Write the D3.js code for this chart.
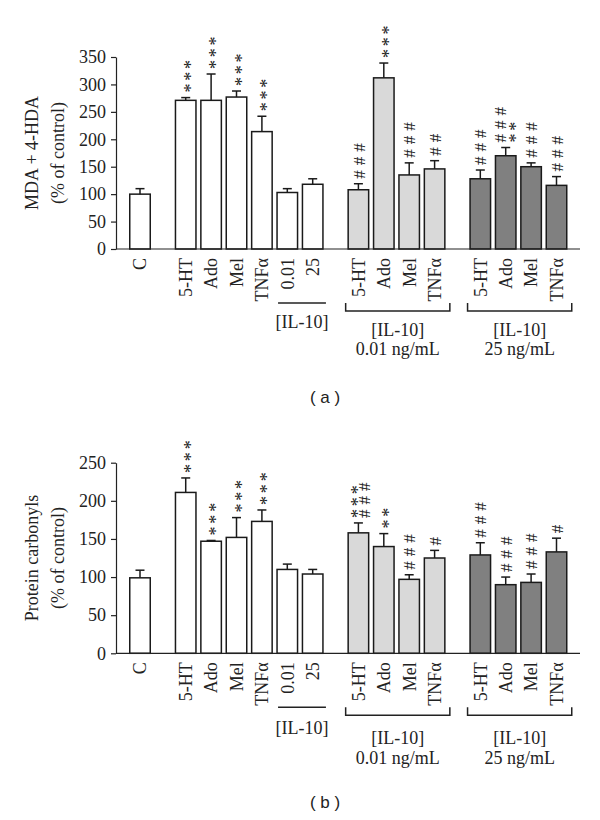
<!DOCTYPE html>
<html><head><meta charset="utf-8">
<script src="https://cdn.jsdelivr.net/npm/d3@7"></script>
<style>
body{margin:0;background:#fff;}
svg text{font-family:"Liberation Serif","Times New Roman",serif;fill:#222;}
</style></head>
<body><svg id="chart" width="600" height="820"></svg>
<script>
const categories = ["C","5-HT","Ado","Mel","TNFα","0.01","25","5-HT","Ado","Mel","TNFα","5-HT","Ado","Mel","TNFα"];
const groupOf = [0,1,1,1,1,1,1,2,2,2,2,3,3,3,3];
const mdaMean = [100,271,271,277,214,103,118,108,312,135,146,128,170,150,116];
const mdaErr  = [10,5,48,11,28,7,10,11,27,22,15,16,15,7,16];
const mdaSig  = ["","***","***","***","***","","","###","***","###","##","###","###|**","###","###"];
const pcMean  = [99,211,147,152,173,110,104,158,140,97,125,129,90,93,133];
const pcErr   = [10,19,1,26,15,7,6,13,17,6,10,16,10,11,18];
const pcSig   = ["","***","***","***","***","","","***|###","**","###","#","###","###","###","#"];
const mdaTicks = [0,50,100,150,200,250,300,350];
const pcTicks  = [0,50,100,150,200,250];
const groupFill = ["#ffffff","#ffffff","#d9d9d9","#808080"];

const svg = d3.select("#chart");
const ink = "#222";
const FS = 18;

// slot positions derived from group membership
const slots = [];
let s = 0;
categories.forEach((c,i)=>{ if(i>0) s += (groupOf[i]!==groupOf[i-1]) ? 1.8 : 1; slots.push(s); });
const x = d3.scaleLinear().domain([0, slots[slots.length-1]]).range([140, 556.5]);
const barW = 20.5;

// symbol metrics (rotated stack)
const SYM = {
  "*": {fs:18, step:11.8, center:0.62},
  "#": {fs:17, step:13.5, center:0.36}
};

function panel(cfg){
  const y = d3.scaleLinear().domain([0, cfg.max]).range([cfg.y0, cfg.y1]);
  const g = svg.append("g");
  const ax = g.append("g").attr("transform","translate(116,0)")
    .call(d3.axisLeft(y).tickValues(cfg.ticks).tickSize(5).tickSizeOuter(0).tickPadding(5));
  ax.selectAll("path,line").attr("stroke",ink).attr("stroke-width",1.2);
  ax.selectAll("text").attr("font-size",FS).attr("font-family","Liberation Serif").attr("fill",ink);
  const lx = [32, 58];
  cfg.ylabel.forEach((t,i)=>{
    g.append("text").attr("transform",`translate(${lx[i]},${(cfg.y0+cfg.y1)/2}) rotate(-90)`)
      .attr("text-anchor","middle").attr("dy","0.35em").attr("font-size",FS).text(t);
  });
  const data = categories.map((c,i)=>({c, i, m:cfg.mean[i], e:cfg.err[i], sig:cfg.sig[i], g:groupOf[i], cx:x(slots[i])}));
  g.selectAll("rect.bar").data(data).join("rect").attr("class","bar")
    .attr("x",d=>d.cx-barW/2).attr("width",barW)
    .attr("y",d=>y(d.m)).attr("height",d=>cfg.y0-y(d.m))
    .attr("fill",d=>groupFill[d.g]).attr("stroke","#1a1a1a").attr("stroke-width",1.5);
  g.selectAll("line.ev").data(data).join("line").attr("class","ev")
    .attr("x1",d=>d.cx).attr("x2",d=>d.cx).attr("y1",d=>y(d.m)).attr("y2",d=>y(d.m+d.e))
    .attr("stroke","#1a1a1a").attr("stroke-width",1.5);
  g.selectAll("line.ec").data(data).join("line").attr("class","ec")
    .attr("x1",d=>d.cx-4.5).attr("x2",d=>d.cx+4.5).attr("y1",d=>y(d.m+d.e)).attr("y2",d=>y(d.m+d.e))
    .attr("stroke","#1a1a1a").attr("stroke-width",1.5);
  g.append("line").attr("x1",116).attr("x2",580).attr("y1",cfg.y0).attr("y2",cfg.y0)
    .attr("stroke",ink).attr("stroke-width",1.2);
  data.forEach(d=>{
    if(!d.sig) return;
    const cols = d.sig.split("|");
    const capY = y(d.m+d.e);
    const t = g.append("text").attr("class","sig")
      .attr("transform",`translate(${d.cx},${capY-5}) rotate(-90)`).attr("text-anchor","start");
    let prev = 0;
    cols.forEach((col,ci)=>{
      const m = SYM[col[0]];
      const off = cols.length===1 ? 0 : (ci===0 ? -5.5 : 5.5);
      const base = off + m.center*m.fs;
      t.append("tspan").attr("x",0).attr("dy",base-prev)
        .attr("font-size",m.fs).attr("letter-spacing",m.step-0.5*m.fs).text(col);
      prev = base;
    });
  });
  g.selectAll("text.cat").data(data).join("text").attr("class","cat")
    .attr("transform",d=>`translate(${d.cx},${cfg.y0+9}) rotate(-90)`)
    .attr("text-anchor","end").attr("dy","0.35em").attr("font-size",FS)
    .text(d=>d.c);
  const l1 = x(slots[5])-barW/2+1, r1 = x(slots[6])+barW/2+3;
  g.append("line").attr("x1",l1).attr("x2",r1).attr("y1",cfg.y0+54).attr("y2",cfg.y0+54).attr("stroke",ink).attr("stroke-width",1.5);
  g.append("text").attr("x",(l1+r1)/2).attr("y",cfg.y0+cfg.il1).attr("dy","0.35em").attr("text-anchor","middle").attr("font-size",FS).text("[IL-10]");
  [[7,10,"0.01 ng/mL"],[11,14,"25 ng/mL"]].forEach(([a,b,t])=>{
    const l = x(slots[a])-barW/2-2.5, r = x(slots[b])+barW/2+5;
    const by = cfg.y0+62;
    g.append("path").attr("d",`M${l},${by-8}V${by}H${r}V${by-8}`).attr("fill","none").attr("stroke",ink).attr("stroke-width",1.5);
    g.append("text").attr("x",(l+r)/2).attr("y",cfg.y0+cfg.il2).attr("dy","0.35em").attr("text-anchor","middle").attr("font-size",FS).text("[IL-10]");
    g.append("text").attr("x",(l+r)/2).attr("y",cfg.y0+cfg.il3).attr("dy","0.35em").attr("text-anchor","middle").attr("font-size",FS).text(t);
  });
  g.append("text").attr("x",325).attr("y",cfg.plabY).attr("dy","0.35em").attr("text-anchor","middle")
    .style("font-family","'Liberation Sans', Arial, sans-serif")
    .attr("font-size",17).attr("xml:space","preserve").text(cfg.plab);
}

panel({y0:249, y1:57, max:350, ticks:mdaTicks, mean:mdaMean, err:mdaErr, sig:mdaSig,
  ylabel:["MDA + 4-HDA","(% of control)"], il1:73, il2:81, il3:100, plab:"( a )", plabY:397});
panel({y0:653.3, y1:462.7, max:250, ticks:pcTicks, mean:pcMean, err:pcErr, sig:pcSig,
  ylabel:["Protein carbonyls","(% of control)"], il1:74, il2:84, il3:104, plab:"( b )", plabY:802});
</script></body></html>
